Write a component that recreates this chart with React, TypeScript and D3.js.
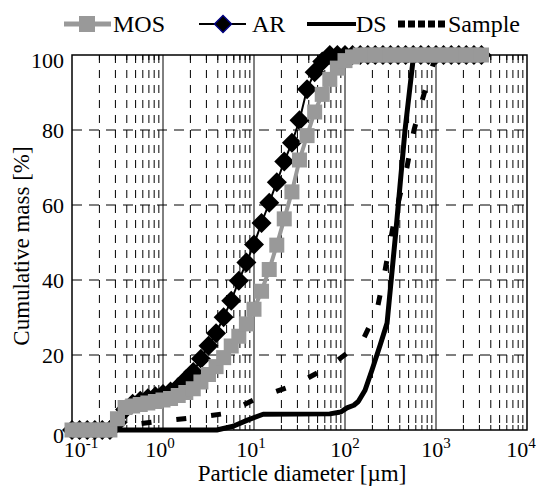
import React from "react";
import * as d3 from "d3";

// Particle size bins [µm]
const sizes = [0.1,0.121,0.147,0.178,0.215,0.261,0.316,0.383,0.464,0.562,0.681,0.825,1,1.21,1.47,1.78,2.15,2.61,3.16,3.83,4.64,5.62,6.81,8.25,10,12.1,14.7,17.8,21.5,26.1,31.6,38.3,46.4,56.2,68.1,82.5,100,121,147,178,215,261,316,383,464,562,681,825,1000,1210,1470,1780,2150,2610,3160];
// MOS cumulative mass [%]
const mosValues = [0,0,0,0,0,0,3,6,6.4,6.8,7.2,7.6,8.0,8.4,9.2,10,11,12.8,14.8,16.9,19.3,22.4,25,28.3,32.2,37,42.8,49.3,56.3,63.5,72,78.5,84.8,89.5,93.5,96.5,98.5,99.5,100,100,100,100,100,100,100,100,100,100,100,100,100,100,100,100,100];
// AR cumulative mass [%]
const arValues = [0,0,0,0,0,0,2,5.5,7,7.8,8.5,9,9.6,10.3,11.5,13.5,15.5,19,22.5,25.8,30.1,34.5,39.8,44.7,49.5,55.2,60.6,66.1,71.6,76.6,82.6,90.9,95.4,98.3,100,100,100,100,100,100,100,100,100,100,100,100,100,100,100,100,100,100,100,100,100];
// DS
const dsSizes = [0.1,3.9,5.9,8.6,12.6,68,90,105,125,140,166,198,243,290,363,456,558,590,3160];
const dsValues = [0,0,1,2.7,4.2,4.3,4.8,5.9,6.6,7.6,10.6,16,22.6,28.5,53.2,79.8,98.4,100,100];
// Sample
const smpSizes = [0.1,0.3,0.5,0.82,2.03,4.9,11.6,28,68,154,225,275,360,479,573,738,1000,3160];
const smpValues = [0,0.5,1.5,2.2,3.2,4.4,8.8,12,17,23.5,32,42.5,58,70,80,89.6,100,100];

const yTicks = [0,20,40,60,80,100];
const xDecades = [0.1,1,10,100,1000,10000];
const xExponents = ["-1","0","1","2","3","4"];
const legendLabels = ["MOS","AR","DS","Sample"];

const FONT = "Times New Roman";

export default function App() {
  const W = 543, H = 486;
  const x = d3.scaleLog().domain([0.1, 10000]).range([72, 527]);
  const y = d3.scaleLinear().domain([0, 100]).range([430, 55]);

  const minor: number[] = [];
  for (let e = -1; e <= 3; e++) for (let m = 2; m <= 9; m++) minor.push(m * Math.pow(10, e));

  const line = d3.line<[number, number]>().x(d => x(d[0])).y(d => y(d[1]));
  const mosPts = sizes.map((s, i) => [s, mosValues[i]] as [number, number]);
  const arPts = sizes.map((s, i) => [s, arValues[i]] as [number, number]);
  const dsPts = dsSizes.map((s, i) => [s, dsValues[i]] as [number, number]);
  const smpPts = smpSizes.map((s, i) => [s, smpValues[i]] as [number, number]);

  const diamond = (cx: number, cy: number, r: number) => `M${cx},${cy - r}L${cx + r},${cy}L${cx},${cy + r}L${cx - r},${cy}Z`;
  const sq = 15;
  const ly = 24;
  const xLabelShift = [9, -3, -3, 0, 0, -6];
  const yLabelShift = [5, 0, 0, 0, 0, 5];
  const T = (props: any) => <text fontFamily={FONT} style={{ fontFamily: `"${FONT}"` }} {...props} />;

  return (
    <svg width={W} height={H} fontFamily={FONT} style={{ display: "block", position: "absolute", left: 0, top: 0, fontFamily: `"${FONT}"` }}>
      <style>{`text, tspan { font-family: "Times New Roman", "Liberation Serif", serif; }`}</style>
      <rect x={0} y={0} width={W} height={H} fill="#fff" />
      {/* grid */}
      {minor.map((v, i) => (
        <line key={"m" + i} x1={x(v)} x2={x(v)} y1={55} y2={430} stroke="#000" strokeWidth={1} strokeDasharray="8,7" />
      ))}
      {xDecades.slice(1, 5).map((v, i) => (
        <line key={"d" + i} x1={x(v)} x2={x(v)} y1={55} y2={430} stroke="#000" strokeWidth={1} />
      ))}
      {yTicks.slice(1, 5).map((v, i) => (
        <line key={"h" + i} x1={72} x2={527} y1={y(v)} y2={y(v)} stroke="#000" strokeWidth={1} strokeDasharray="10,7" />
      ))}
      {minor.map((v, i) => (
        <g key={"t" + i}>
          <line x1={x(v)} x2={x(v)} y1={55} y2={60} stroke="#000" strokeWidth={1} />
          <line x1={x(v)} x2={x(v)} y1={425} y2={430} stroke="#000" strokeWidth={1} />
        </g>
      ))}
      <rect x={72} y={55} width={455} height={375} fill="none" stroke="#000" strokeWidth={1.5} />

      {/* series */}
      <path d={line(dsPts) || ""} fill="none" stroke="#000" strokeWidth={5} strokeLinejoin="round" />
      <path d={line(smpPts) || ""} fill="none" stroke="#000" strokeWidth={5} strokeDasharray="10,25" />
      <path d={line(arPts) || ""} fill="none" stroke="#000" strokeWidth={2} />
      {arPts.map((p, i) => (
        <path key={"ar" + i} d={diamond(x(p[0]), y(p[1]), 10)} fill="#000" />
      ))}
      <path d={line(mosPts) || ""} fill="none" stroke="#999" strokeWidth={4} />
      {mosPts.map((p, i) => (
        <rect key={"mo" + i} x={x(p[0]) - sq / 2} y={y(p[1]) - sq / 2} width={sq} height={sq} fill="#999" />
      ))}

      {/* y ticks */}
      {yTicks.map((v, i) => (
        <T key={"yt" + i} x={64} y={y(v) + yLabelShift[i]} dy="0.35em" textAnchor="end" fontSize={22}>{v}</T>
      ))}
      {/* x ticks */}
      {xDecades.map((v, i) => (
        <T key={"xt" + i} x={x(v) + xLabelShift[i]} y={457} textAnchor="middle" fontSize={22}>
          10<tspan fontSize={15} dy={-9}>{xExponents[i]}</tspan>
        </T>
      ))}
      <T x={302} y={481} textAnchor="middle" fontSize={23}>Particle diameter [µm]</T>
      <T transform={`translate(29,246) rotate(-90)`} textAnchor="middle" fontSize={23}>Cumulative mass [%]</T>

      {/* legend */}
      <line x1={64} x2={111} y1={ly} y2={ly} stroke="#999" strokeWidth={5} />
      <rect x={87 - 8} y={ly - 8} width={16} height={16} fill="#999" />
      <T x={113} y={ly + 8} fontSize={24}>{legendLabels[0]}</T>
      <line x1={199} x2={246} y1={ly} y2={ly} stroke="#000" strokeWidth={2} />
      <path d={diamond(223, ly, 8.5)} fill="#000" stroke="#000080" strokeWidth={1.5} />
      <T x={252} y={ly + 8} fontSize={24}>{legendLabels[1]}</T>
      <line x1={307} x2={356} y1={ly} y2={ly} stroke="#000" strokeWidth={4} />
      <T x={356} y={ly + 8} fontSize={24}>{legendLabels[2]}</T>
      <line x1={398} x2={446} y1={ly} y2={ly} stroke="#000" strokeWidth={7} strokeDasharray="7,3" />
      <T x={448} y={ly + 8} fontSize={24}>{legendLabels[3]}</T>
    </svg>
  );
}
